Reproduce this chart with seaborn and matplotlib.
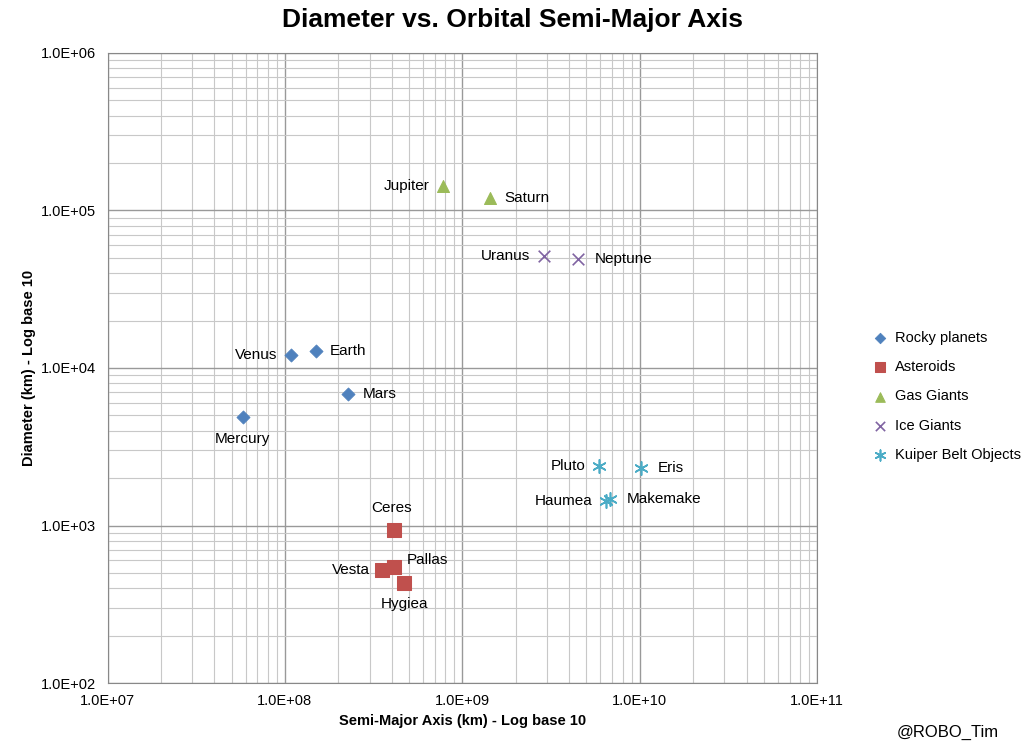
import matplotlib
matplotlib.use("Agg")
import math
import matplotlib.pyplot as plt
import seaborn as sns
import pandas as pd

# data
names = ["Mercury", "Venus", "Earth", "Mars",
         "Ceres", "Vesta", "Pallas", "Hygiea",
         "Jupiter", "Saturn",
         "Uranus", "Neptune",
         "Pluto", "Eris", "Haumea", "Makemake"]
axis_km = [5.79e7, 1.082e8, 1.496e8, 2.279e8,
           4.14e8, 3.53e8, 4.14e8, 4.70e8,
           7.785e8, 1.433e9,
           2.872e9, 4.495e9,
           5.906e9, 1.0125e10, 6.45e9, 6.80e9]
diam_km = [4879, 12104, 12756, 6792,
           940, 525, 545, 430,
           142984, 120536,
           51118, 49528,
           2377, 2326, 1430, 1480]
groups = ["Rocky planets"] * 4 + ["Asteroids"] * 4 + ["Gas Giants"] * 2 + \
         ["Ice Giants"] * 2 + ["Kuiper Belt Objects"] * 4

df = pd.DataFrame({"name": names, "a": axis_km, "d": diam_km, "group": groups})

styles = {
    "Rocky planets": ("#4F81BD", "D", 45),
    "Asteroids": ("#C0504D", "s", 90),
    "Gas Giants": ("#9BBB59", "^", 75),
    "Ice Giants": ("#8064A2", "x", 70),
    "Kuiper Belt Objects": ("#4BACC6", (6, 2, 0), 90),
}

# label offsets (points)
offsets = {
    "Mercury": (0, -16, "center"), "Venus": (-10, 0, "right"), "Earth": (10, 0, "left"),
    "Mars": (10, 0, "left"), "Ceres": (-2, 16, "center"), "Vesta": (-9, 0, "right"),
    "Pallas": (9, 5, "left"), "Hygiea": (0, -15, "center"),
    "Jupiter": (-10, 0, "right"), "Saturn": (10, 0, "left"),
    "Uranus": (-10, 0, "right"), "Neptune": (12, 0, "left"),
    "Pluto": (-10, 0, "right"), "Eris": (12, 0, "left"),
    "Haumea": (-10, 0, "right"), "Makemake": (12, 0, "left"),
}

sns.set_style("white")
plt.rcParams["font.family"] = ["Liberation Sans", "DejaVu Sans"]
plt.rcParams["text.color"] = "black"
plt.rcParams["axes.labelcolor"] = "black"
plt.rcParams["xtick.color"] = "black"
plt.rcParams["ytick.color"] = "black"

fig = plt.figure(figsize=(10.24, 7.51), dpi=100)
ax = fig.add_axes([0.105, 0.0905, 0.693, 0.839])

for g, (c, m, s) in styles.items():
    sub = df[df.group == g]
    kw = dict(edgecolor=c) if m in ("D", "s", "^") else dict(linewidths=1.2)
    sns.scatterplot(data=sub, x="a", y="d", color=c, marker=m, s=s, ax=ax, label=g, **kw)

for _, r in df.iterrows():
    dx, dy, ha = offsets[r["name"]]
    ax.annotate(r["name"], (r["a"], r["d"]), xytext=(dx, dy), textcoords="offset points",
                ha=ha, va="center", fontsize=11)

ax.set_xscale("log")
ax.set_yscale("log")
ax.set_xlim(1e7, 1e11)
ax.set_ylim(1e2, 1e6)
ax.grid(which="major", color="#999999", lw=1.0)
ax.grid(which="minor", color="#c8c8c8", lw=0.8)
for sp in ax.spines.values():
    sp.set_color("#888888")
fmt = plt.FuncFormatter(lambda v, p: "1.0E+%02d" % round(math.log10(v)))
ax.xaxis.set_major_formatter(fmt)
ax.yaxis.set_major_formatter(fmt)
ax.tick_params(which="both", length=0, labelsize=10.5)
ax.tick_params(which="major", pad=8)
ax.set_xlabel("Semi-Major Axis (km) - Log base 10", fontsize=10.5, fontweight="bold")
ax.set_ylabel("Diameter (km) - Log base 10", fontsize=10.5, fontweight="bold")
fig.suptitle("Diameter vs. Orbital Semi-Major Axis", fontsize=19, fontweight="bold", y=0.99)

leg = ax.legend(loc="center left", bbox_to_anchor=(1.06, 0.455), frameon=False,
                fontsize=10.5, handletextpad=0.0, labelspacing=1.05, markerscale=0.8,
                borderaxespad=0)
fig.text(0.975, 0.015, "@ROBO_Tim", ha="right", va="bottom", fontsize=12)

fig.savefig("out.png", dpi=100)
